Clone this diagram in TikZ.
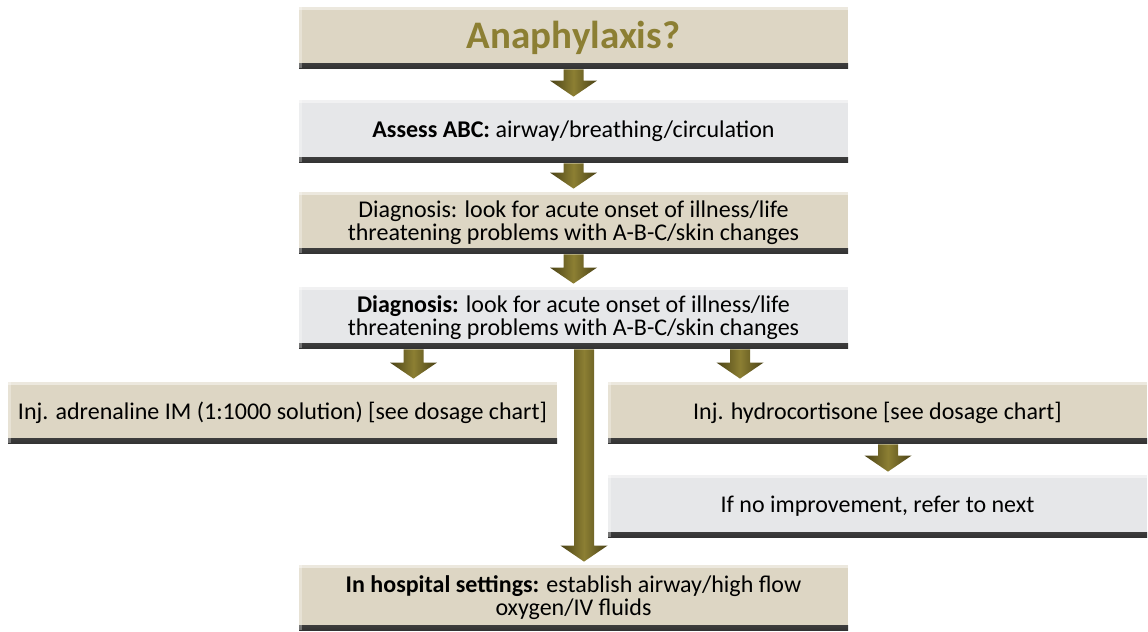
\documentclass[tikz,border=0pt]{standalone}
\usepackage{fontspec}
\setmainfont{Carlito}
\usetikzlibrary{positioning, calc}
\definecolor{sabbia}{HTML}{DDD6C4}
\definecolor{grigio}{HTML}{E6E7E9}
\definecolor{oliva}{HTML}{8C7F33}
\definecolor{olivascuro}{HTML}{4A4216}
\tikzset{
    blocco/.style={rectangle, inner sep=2pt, minimum height=30.5pt, align=center,
        font=\fontsize{12}{11.5}\selectfont,
        path picture={
            \shade[top color=black!30, bottom color=black!80]
                ([yshift=2.5pt]path picture bounding box.south west) rectangle (path picture bounding box.south east);
            \fill[white, opacity=.45]
                (path picture bounding box.north west) rectangle ([yshift=-1.5pt]path picture bounding box.north east);
            \fill[white, opacity=.3]
                (path picture bounding box.north west) rectangle ([xshift=1.5pt]path picture bounding box.south west);
        }},
    sabbiabox/.style={blocco, fill=sabbia},
    grigiobox/.style={blocco, fill=grigio},
    largo/.style={minimum width=274.5pt},
    stretto/.style={minimum width=269.5pt},
    titolo/.style={font=\fontsize{19.5}{22}\selectfont\bfseries, text=oliva},
    freccia/.style={left color=olivascuro, right color=olivascuro, middle color=oliva},
}
% #1 = x, #2 = da, #3 = a
\newcommand{\freccia}[3]{%
    \shade[freccia] let \p1=(#2.south), \p2=(#3.north) in
        (#1-10,\y1-0.5pt) -- (#1+10,\y1-0.5pt) -- (#1+10,\y2+9.5pt) -- (#1+23.5,\y2+9.5pt)
        -- (#1,\y2+1.5pt) -- (#1-23.5,\y2+9.5pt) -- (#1-10,\y2+9.5pt) -- cycle;
}

\begin{document}
\begin{tikzpicture}[x=0.5pt, y=-0.5pt]
    \useasboundingbox (0,0) rectangle (1148,632);

    % Blocchi
    \node[sabbiabox, largo, titolo] (T) at (573.5,37.5) {Anaphylaxis?};
    \node[grigiobox, largo, minimum height=31pt] (ABC) at (573.5,131)
        {\textbf{Assess ABC:} airway/breathing/circulation};
    \node[sabbiabox, largo] (D1) at (573.5,222.5)
        {Diagnosis: look for acute onset of illness/life\\threatening problems with A-B-C/skin changes};
    \node[grigiobox, largo] (D2) at (573.5,317.5)
        {\textbf{Diagnosis:} look for acute onset of illness/life\\threatening problems with A-B-C/skin changes};
    \node[sabbiabox, largo] (ADR) at (282.5,412.5)
        {Inj. adrenaline IM (1:1000 solution) [see dosage chart]};
    \node[sabbiabox, stretto] (HYD) at (877.5,412.5)
        {Inj. hydrocortisone [see dosage chart]};
    \node[grigiobox, stretto, minimum height=31pt] (NEXT) at (877.5,506)
        {If no improvement, refer to next};
    \node[sabbiabox, largo, minimum height=32.5pt] (OSP) at (573.5,597.5)
        {\textbf{In hospital settings:} establish airway/high flow\\oxygen/IV fluids};

    % Frecce
    \freccia{573.5}{T}{ABC}
    \freccia{573.5}{ABC}{D1}
    \freccia{573.5}{D1}{D2}
    \freccia{413.5}{D2}{ADR}
    \freccia{740}{D2}{HYD}
    \freccia{888}{HYD}{NEXT}
    \freccia{584}{D2}{OSP}
\end{tikzpicture}
\end{document}
